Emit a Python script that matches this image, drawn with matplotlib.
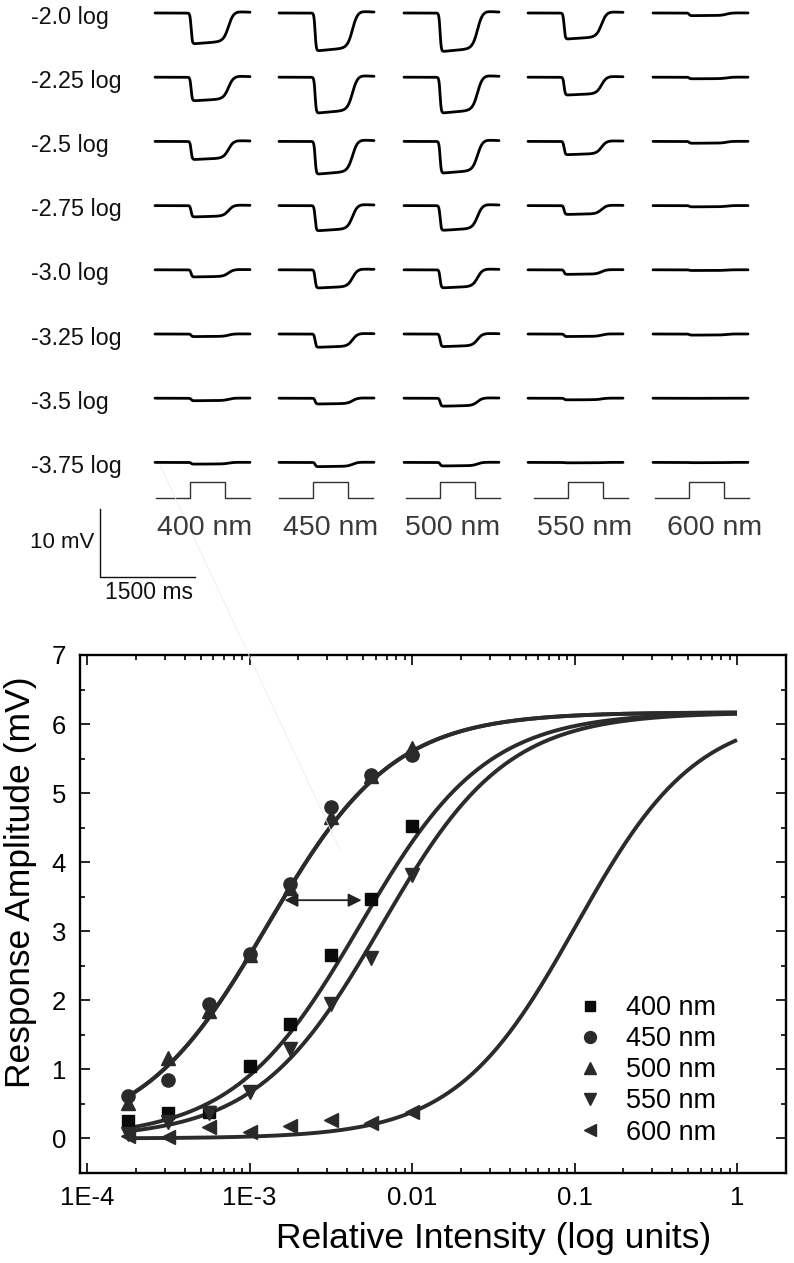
import numpy as np
import matplotlib
matplotlib.use("Agg")
import matplotlib.pyplot as plt
from matplotlib.lines import Line2D
from matplotlib.ticker import FixedLocator, FixedFormatter, LogLocator, MultipleLocator, NullFormatter

plt.rcParams['font.family'] = ['Liberation Sans', 'DejaVu Sans']

# ---------------- data ----------------
wavelengths = ['400 nm', '450 nm', '500 nm', '550 nm', '600 nm']
log_intensity = [-3.75, -3.5, -3.25, -3.0, -2.75, -2.5, -2.25, -2.0]
row_labels = ['-3.75 log', '-3.5 log', '-3.25 log', '-3.0 log',
              '-2.75 log', '-2.5 log', '-2.25 log', '-2.0 log']

resp_400 = [0.25, 0.37, 0.38, 1.05, 1.66, 2.66, 3.46, 4.52]
resp_450 = [0.62, 0.85, 1.95, 2.67, 3.69, 4.80, 5.26, 5.55]
resp_500 = [0.52, 1.17, 1.85, 2.65, 3.63, 4.65, 5.25, 5.65]
resp_550 = [0.06, 0.24, 0.37, 0.67, 1.30, 1.95, 2.62, 3.82]
resp_600 = [0.04, 0.02, 0.16, 0.10, 0.18, 0.27, 0.23, 0.39]

# Hill-fit parameters per wavelength (Rmax, log10 K, n)
fit_rmax = [6.17, 6.17, 6.17, 6.17, 6.17]
fit_logk = [-2.32, -2.89, -2.89, -2.187, -0.99]
fit_n = [1.12, 1.12, 1.12, 1.13, 1.17]

x_tick_vals = [1e-4, 1e-3, 1e-2, 1e-1, 1]
x_tick_labels = ['1E-4', '1E-3', '0.01', '0.1', '1']
y_ticks = [0, 1, 2, 3, 4, 5, 6, 7]

arrow_x = (10 ** -2.785, 10 ** -2.31)
arrow_y = 3.45

responses = [resp_400, resp_450, resp_500, resp_550, resp_600]
markers = ['s', 'o', '^', 'v', '<']
msizes = [8.5, 9.5, 10, 10, 10]
mcolors = ['#0a0a0a', '#2a2a2a', '#2a2a2a', '#2a2a2a', '#2a2a2a']

# ---------------- figure ----------------
W, H = 794, 1263
fig = plt.figure(figsize=(W / 100, H / 100), dpi=100)

# ---------- bottom: intensity-response ----------
L, R, T, B = 80, 786, 655, 1173
ax = fig.add_axes([L / W, 1 - B / H, (R - L) / W, (B - T) / H])
ax.set_xscale('log')
dec = 162.5
ax.set_xlim(10 ** (-4 - (87 - L) / dec), 10 ** ((R - 737) / dec))
ax.set_ylim(-0.5, 7)

curve_col = '#2b2b2b'
xc = np.logspace(log_intensity[0], 0, 400)
for i in range(5):
    k = 10 ** fit_logk[i]
    yc = fit_rmax[i] * xc ** fit_n[i] / (xc ** fit_n[i] + k ** fit_n[i])
    ax.plot(xc, yc, color=curve_col, lw=2.8, zorder=2, solid_capstyle='butt')

xi = 10 ** np.array(log_intensity)
handles = []
for i in range(5):
    ax.plot(xi, responses[i], linestyle='none', marker=markers[i], ms=msizes[i],
            color=mcolors[i], mec=mcolors[i], zorder=3)
    handles.append(Line2D([], [], linestyle='none', marker=markers[i], ms=msizes[i] * 0.9,
                          color=mcolors[i], mec=mcolors[i]))

ax.annotate('', xy=(arrow_x[1], arrow_y), xytext=(arrow_x[0], arrow_y),
            arrowprops=dict(arrowstyle='<|-|>', color='#222222', lw=1.3,
                            mutation_scale=20, shrinkA=0, shrinkB=0), zorder=4)

ax.xaxis.set_major_locator(FixedLocator(x_tick_vals))
ax.xaxis.set_major_formatter(FixedFormatter(x_tick_labels))
ax.xaxis.set_minor_locator(LogLocator(base=10, subs=np.arange(2, 10), numticks=20))
ax.xaxis.set_minor_formatter(NullFormatter())
ax.yaxis.set_major_locator(FixedLocator(y_ticks))
ax.yaxis.set_minor_locator(MultipleLocator(0.5))

ax.tick_params(which='both', direction='in', top=True, right=True, width=1.2, color='black')
ax.tick_params(which='major', length=7.2, labelsize=18.5)
ax.tick_params(which='minor', length=3.6)
ax.tick_params(axis='x', which='major', pad=9.5)
ax.tick_params(axis='y', which='major', pad=10)
for s in ax.spines.values():
    s.set_linewidth(1.7)
    s.set_color('black')

ax.legend(handles, wavelengths, loc='upper left',
          bbox_to_anchor=(576 / W, 1 - 995 / H), bbox_transform=fig.transFigure,
          frameon=False, borderpad=0, borderaxespad=0, handlelength=1.0,
          handletextpad=0.85, labelspacing=0.19, fontsize=19.5)

fig.text(493.5 / W, 1 - 1248 / H, 'Relative Intensity (log units)', ha='center',
         va='baseline', fontsize=25.5)
fig.text(21 / W, 1 - 882 / H, 'Response Amplitude (mV)', ha='center', va='center',
         rotation=90, fontsize=25.5)

# ---------- top: voltage traces ----------
PX_PER_MS = 95 / 1500.0
PX_PER_MV = 6.8
X0_PX, Y0_PX = 155, 13
axt = fig.add_axes([0, 0, 1, 1])
axt.set_xlim((0 - X0_PX) / PX_PER_MS, (W - X0_PX) / PX_PER_MS)
axt.set_ylim(-(H - Y0_PX) / PX_PER_MV, Y0_PX / PX_PER_MV)
axt.axis('off')
axt.patch.set_visible(False)


def px2ms(px):
    return (px - X0_PX) / PX_PER_MS


def px2mv(py):
    return -(py - Y0_PX) / PX_PER_MV


col_px = [155, 279, 404, 528, 653]
row_step_px = 64.2
t = np.linspace(0, 1500, 700)


def trace_shape(tt):
    on = 1 / (1 + np.exp(-(tt - 570) / 9))
    off = 1 / (1 + np.exp(-(tt - 1160) / 40))
    sag = 1 - 0.07 * np.clip((tt - 620) / 450, 0, 1)
    over = 0.05 * off * np.exp(-np.clip(tt - 1300, 0, None) / 300)
    return -on * (1 - off) * sag + over


shape = trace_shape(t)
n_rows = len(log_intensity)
for r in range(n_rows):
    idx = n_rows - 1 - r  # top row = strongest intensity
    base_mv = px2mv(Y0_PX + r * row_step_px)
    axt.text(px2ms(31), base_mv - 0.6, row_labels[idx], ha='left', va='center',
             fontsize=16.8, color='#111111')
    for c in range(5):
        amp = responses[c][idx]
        axt.plot(px2ms(col_px[c]) + t, base_mv + amp * shape, color='black', lw=2.0,
                 solid_capstyle='round')

# stimulus markers
stim_px = [156, 279, 406, 534, 655]
stim_base = px2mv(498)
stim_top = px2mv(482)
for c in range(5):
    s0 = px2ms(stim_px[c])
    sx = s0 + np.array([0, 34, 34, 68.5, 68.5, 93.5]) / PX_PER_MS
    sy = [stim_base, stim_base, stim_top, stim_top, stim_base, stim_base]
    axt.plot(sx, sy, color='#333333', lw=1.0)

label_px = [205, 331, 453, 585, 715]
for c in range(5):
    axt.text(px2ms(label_px[c]), px2mv(528), wavelengths[c], ha='center', va='center',
             fontsize=20.5, color='#3a3a3a')

# scale bar: 10 mV / 1500 ms
sb_x = px2ms(100)
sb_y = px2mv(577)
axt.plot([sb_x, sb_x, sb_x + 1500], [sb_y + 10, sb_y, sb_y], color='#111111', lw=1.0)
axt.text(px2ms(94), px2mv(543), '10 mV', ha='right', va='center', fontsize=16, color='#111111')
axt.text(px2ms(149), px2mv(593), '1500 ms', ha='center', va='center', fontsize=16.5,
         color='#111111')

# faint guide line
axt.plot([px2ms(160), px2ms(340)], [px2mv(465), px2mv(850)], color='#ececec', lw=0.6)

fig.savefig('out.png', dpi=100)
